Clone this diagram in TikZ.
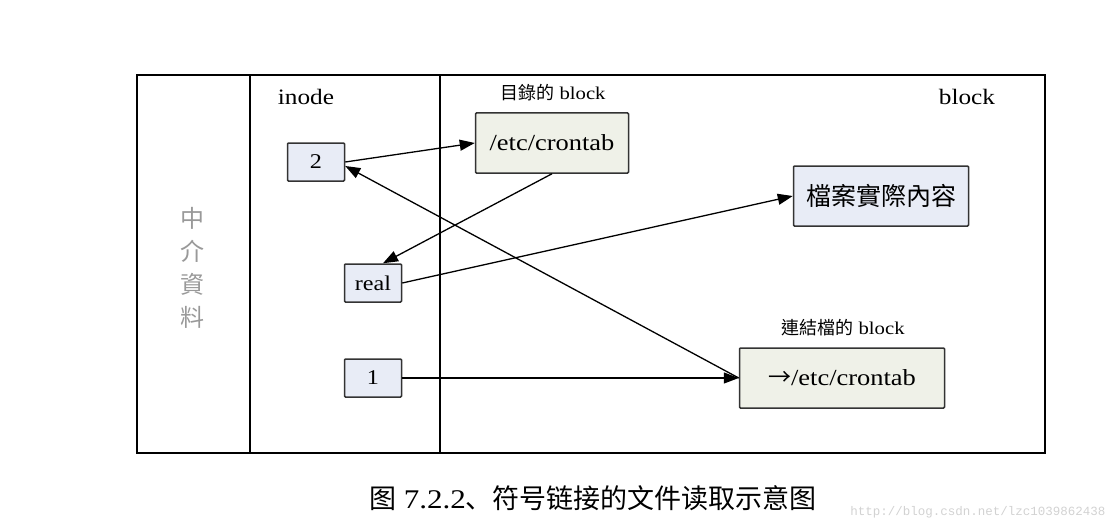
\documentclass[tikz,border=0pt]{standalone}
\usepackage{fontspec}
\setmainfont{Liberation Serif}[FakeStretch=1.15]
\newfontfamily\cjktc{Noto Sans CJK TC}
\newfontfamily\cjksc{Noto Sans CJK SC}
\newfontfamily\urlfont{Liberation Mono}
\usetikzlibrary{arrows.meta}
\definecolor{inodefill}{HTML}{E8ECF6}
\definecolor{blockfill}{HTML}{EFF1E8}
\definecolor{boxline}{HTML}{333333}

\begin{document}
\begin{tikzpicture}[
    x = 1pt, y = -1pt,
    inodebox/.style = {draw = boxline, line width = 1.5pt, fill = inodefill, rounded corners = 1pt,
        minimum width = 57pt, minimum height = 38pt, font = \fontsize{21}{23}\selectfont},
    blockbox/.style = {draw = boxline, line width = 1.5pt, rounded corners = 1pt,
        minimum height = 60pt, font = \fontsize{23}{25}\selectfont},
    caption/.style = {font = \fontsize{18}{20}\selectfont},
    >= {Triangle[length = 15pt, width = 11pt]}
]
\useasboundingbox (0,0) rectangle (1115,532);
% frame
\draw[line width = 1.6pt] (137,75) rectangle (1045,453);
\draw[line width = 1.6pt] (250,75) -- (250,453);
\draw[line width = 2.2pt] (440,75) -- (440,453);
\node (meta) at (192,268) [align = center, text = gray!80, font = \cjktc\fontsize{24}{33}\selectfont] {中\\介\\資\\料};
\node (inodehd) at (306,97) [font = \fontsize{22}{24}\selectfont] {inode};
\node (blockhd) at (967,97) [font = \fontsize{22}{24}\selectfont] {block};
% inodes
\node[inodebox] (two) at (316,162) {2};
\node[inodebox] (real) at (373,283) {real};
\node[inodebox] (one) at (373,378) {1};
% blocks
\node[blockbox, fill = blockfill, minimum width = 153pt] (dir) at (552,143) {/etc/crontab};
\node[blockbox, fill = inodefill, minimum width = 175pt] (data) at (881,196) {\cjktc\fontsize{25}{27}\selectfont 檔案實際內容};
\node[blockbox, fill = blockfill, minimum width = 205pt] (link) at (842,378) {{\cjktc →}/etc/crontab};
\node[caption] (dirhd) at (553,93) {{\cjktc 目錄的} block};
\node[caption] (linkhd) at (843,328) {{\cjktc 連結檔的} block};
% arrows
\draw[->, line width = 1.3pt] (two.east) -- (dir.west);
\draw[->, line width = 1.3pt] (dir.south) -- ([xshift = 10pt]real.north);
\draw[->, line width = 1.3pt] (real.east) -- (data.west);
\draw[->, line width = 1.3pt] (one.east) -- (link.west);
\draw[->, line width = 1.3pt] (link.west) -- ([yshift = -4pt]two.east);
% caption
\node (title) at (593,498) [font = \fontsize{27}{29}\selectfont] {{\cjksc 图} 7.2.2{\cjksc 、符号链接的文件读取示意图}};
\node (mark) at (978,512) [text = gray!35, font = \urlfont\fontsize{12.5}{14}\selectfont] {http://blog.csdn.net/lzc1039862438};
\end{tikzpicture}
\end{document}
